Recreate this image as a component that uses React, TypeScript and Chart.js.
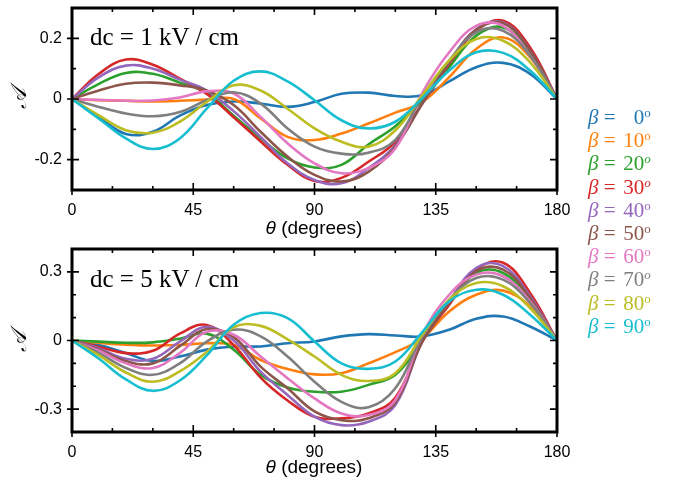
import React, { useEffect, useRef } from "react";
import { Chart, registerables } from "chart.js";
Chart.register(...registerables);

const THETA = [0, 10, 20, 30, 40, 50, 60, 70, 80, 90, 100, 110, 120, 130, 140, 150, 160, 170, 180];
const BETAS = ["0", "10", "20", "30", "40", "50", "60", "70", "80", "90"];
const ITALIC_DEG = [false, false, true, true, false, false, false, true, false, false];
const COLORS = ["#1f77b4", "#ff7f0e", "#2ca02c", "#d62728", "#9467bd", "#8c564b", "#e377c2", "#7f7f7f", "#bcbd22", "#17becf"];
const X_TICKS = [0, 45, 90, 135, 180];
const TOP_Y_TICKS = [-0.2, 0, 0.2];
const BOT_Y_TICKS = [-0.3, 0, 0.3];

// dc = 1 kV/cm
const DC1_B0 = [0, -0.06, -0.115, -0.108, -0.055, -0.02, -0.008, -0.015, -0.026, -0.01, 0.017, 0.021, 0.01, 0.012, 0.058, 0.105, 0.119, 0.083, 0];
const DC1_B10 = [0, -0.004, -0.006, -0.008, -0.006, -0.002, 0, -0.064, -0.125, -0.135, -0.114, -0.081, -0.045, -0.01, 0.072, 0.165, 0.203, 0.138, 0];
const DC1_B20 = [0, 0.05, 0.086, 0.083, 0.054, 0.02, -0.055, -0.13, -0.196, -0.226, -0.217, -0.15, -0.09, -0.004, 0.105, 0.209, 0.236, 0.154, 0];
const DC1_B30 = [0, 0.083, 0.13, 0.113, 0.067, 0.017, -0.06, -0.14, -0.217, -0.27, -0.26, -0.207, -0.141, -0.015, 0.116, 0.225, 0.258, 0.17, 0];
const DC1_B40 = [0, 0.072, 0.11, 0.1, 0.064, 0.028, -0.04, -0.125, -0.212, -0.267, -0.278, -0.228, -0.152, -0.015, 0.121, 0.23, 0.252, 0.16, 0];
const DC1_B50 = [0, 0.028, 0.05, 0.054, 0.045, 0.028, -0.02, -0.108, -0.19, -0.25, -0.272, -0.24, -0.157, -0.015, 0.12, 0.228, 0.25, 0.16, 0];
const DC1_B60 = [0, -0.003, -0.006, -0.005, 0.005, 0.025, 0.018, -0.059, -0.146, -0.212, -0.245, -0.228, -0.163, 0.02, 0.154, 0.241, 0.241, 0.143, 0];
const DC1_B70 = [0, -0.026, -0.048, -0.057, -0.043, -0.004, 0.022, -0.015, -0.097, -0.157, -0.18, -0.177, -0.135, 0.007, 0.127, 0.22, 0.225, 0.143, 0];
const DC1_B80 = [0, -0.054, -0.103, -0.111, -0.075, -0.01, 0.045, 0.028, -0.032, -0.097, -0.141, -0.157, -0.103, 0.012, 0.127, 0.198, 0.192, 0.121, 0];
const DC1_B90 = [0, -0.065, -0.13, -0.165, -0.13, -0.032, 0.06, 0.091, 0.058, -0.004, -0.07, -0.097, -0.075, 0.003, 0.094, 0.154, 0.152, 0.094, 0];

// dc = 5 kV/cm
const DC5_B0 = [0, -0.02, -0.055, -0.09, -0.07, -0.04, -0.026, -0.026, -0.012, -0.004, 0.018, 0.028, 0.022, 0.018, 0.047, 0.095, 0.105, 0.061, 0];
const DC5_B10 = [0, -0.01, -0.018, -0.022, -0.02, -0.012, -0.02, -0.085, -0.125, -0.148, -0.143, -0.1, -0.051, 0.01, 0.127, 0.2, 0.218, 0.149, 0];
const DC5_B20 = [0, -0.005, -0.01, -0.008, 0.008, 0.03, -0.04, -0.15, -0.205, -0.224, -0.224, -0.194, -0.15, 0.0, 0.164, 0.295, 0.295, 0.178, 0];
const DC5_B30 = [0, -0.028, -0.055, -0.045, 0.03, 0.068, -0.02, -0.162, -0.262, -0.333, -0.34, -0.319, -0.25, -0.005, 0.156, 0.31, 0.34, 0.208, 0];
const DC5_B40 = [0, -0.035, -0.08, -0.08, -0.005, 0.06, 0.0, -0.136, -0.238, -0.333, -0.37, -0.355, -0.282, -0.005, 0.171, 0.317, 0.325, 0.193, 0];
const DC5_B50 = [0, -0.04, -0.09, -0.1, -0.025, 0.05, 0.015, -0.114, -0.209, -0.31, -0.348, -0.34, -0.27, -0.005, 0.164, 0.303, 0.31, 0.186, 0];
const DC5_B60 = [0, -0.045, -0.1, -0.12, -0.055, 0.038, 0.025, -0.07, -0.165, -0.253, -0.319, -0.326, -0.26, 0.025, 0.2, 0.288, 0.281, 0.171, 0];
const DC5_B70 = [0, -0.055, -0.12, -0.15, -0.1, -0.005, 0.047, 0.018, -0.07, -0.18, -0.268, -0.292, -0.209, 0.018, 0.178, 0.273, 0.266, 0.164, 0];
const DC5_B80 = [0, -0.065, -0.14, -0.18, -0.135, -0.05, 0.058, 0.064, 0.005, -0.07, -0.15, -0.177, -0.143, 0.025, 0.178, 0.251, 0.237, 0.142, 0];
const DC5_B90 = [0, -0.08, -0.17, -0.22, -0.175, -0.065, 0.069, 0.12, 0.098, -0.004, -0.1, -0.124, -0.092, 0.037, 0.171, 0.222, 0.2, 0.113, 0];

const DC1 = [DC1_B0, DC1_B10, DC1_B20, DC1_B30, DC1_B40, DC1_B50, DC1_B60, DC1_B70, DC1_B80, DC1_B90];
const DC5 = [DC5_B0, DC5_B10, DC5_B20, DC5_B30, DC5_B40, DC5_B50, DC5_B60, DC5_B70, DC5_B80, DC5_B90];

const SANS = "'Liberation Sans', Arial, sans-serif";
const SERIF = "'Liberation Serif', 'Times New Roman', serif";

const framePlugin = {
  id: "frame",
  afterDatasetsDraw(chart: any) {
    const { ctx, chartArea: a, scales } = chart;
    const xs = scales.x;
    const ys = scales.y;
    const majorsY: number[] = chart.options.plugins.frame.majorsY;
    const yMaxTenths: number = chart.options.plugins.frame.yMaxTenths;
    ctx.save();
    ctx.strokeStyle = "#000";
    ctx.lineWidth = 1.6;
    for (const v of [15, 30, 45, 60, 75, 90, 105, 120, 135, 150, 165]) {
      const px = xs.getPixelForValue(v);
      const major = v % 45 === 0;
      const inL = major ? 7 : 4;
      ctx.beginPath();
      ctx.moveTo(px, a.bottom + (major ? 5 : 0));
      ctx.lineTo(px, a.bottom - inL);
      ctx.moveTo(px, a.top);
      ctx.lineTo(px, a.top + inL);
      ctx.stroke();
    }
    for (let k = -yMaxTenths + 1; k <= yMaxTenths - 1; k++) {
      const v = k / 10;
      const py = ys.getPixelForValue(v);
      const major = majorsY.some((m) => Math.abs(m - v) < 1e-6);
      const inL = major ? 7 : 4;
      ctx.beginPath();
      ctx.moveTo(a.left - (major ? 5 : 0), py);
      ctx.lineTo(a.left + inL, py);
      ctx.moveTo(a.right, py);
      ctx.lineTo(a.right - inL, py);
      ctx.stroke();
    }
    for (const v of [0, 180]) {
      const px = xs.getPixelForValue(v);
      ctx.beginPath();
      ctx.moveTo(px, a.bottom);
      ctx.lineTo(px, a.bottom + 5);
      ctx.stroke();
    }
    ctx.lineWidth = 3;
    ctx.strokeRect(a.left, a.top, a.right - a.left, a.bottom - a.top);
    ctx.restore();
  },
};

function Panel(props: {
  top: number;
  height: number;
  padTop: number;
  xAxisH: number;
  series: number[][];
  yMax: number;
  yTicks: number[];
}) {
  const ref = useRef<HTMLCanvasElement | null>(null);
  useEffect(() => {
    const canvas = ref.current!;
    const chart = new Chart(canvas, {
      type: "line",
      data: {
        datasets: props.series.map((vals, i) => ({
          label: "β = " + BETAS[i],
          data: THETA.map((t, j) => ({ x: t, y: vals[j] })),
          borderColor: COLORS[i],
          backgroundColor: COLORS[i],
          borderWidth: 2.6,
          pointRadius: 0,
          tension: 0.4,
          fill: false,
          order: 9 - i,
        })),
      },
      options: {
        animation: false,
        responsive: false,
        devicePixelRatio: 1,
        layout: { padding: { top: props.padTop, right: 63, left: 0, bottom: 0 } },
        plugins: {
          legend: { display: false },
          tooltip: { enabled: false },
          frame: { majorsY: props.yTicks, yMaxTenths: Math.round(props.yMax * 10) },
        } as any,
        scales: {
          x: {
            type: "linear",
            min: 0,
            max: 180,
            grid: { display: false, drawTicks: false },
            border: { display: false },
            afterBuildTicks: (s: any) => {
              s.ticks = X_TICKS.map((v) => ({ value: v }));
            },
            afterFit: (s: any) => {
              s.height = props.xAxisH;
              s.paddingLeft = 0;
              s.paddingRight = 0;
            },
            ticks: {
              color: "#000",
              font: { family: SANS, size: 16 },
              padding: 11,
              maxRotation: 0,
              autoSkip: false,
              callback: (v: any) => String(v),
            },
          },
          y: {
            type: "linear",
            min: -props.yMax,
            max: props.yMax,
            grid: { display: false, drawTicks: false },
            border: { display: false },
            afterBuildTicks: (s: any) => {
              s.ticks = props.yTicks.map((v) => ({ value: v }));
            },
            afterFit: (s: any) => {
              s.width = 72;
              s.paddingTop = 0;
              s.paddingBottom = 0;
            },
            ticks: {
              color: "#000",
              font: { family: SANS, size: 16 },
              padding: 10,
              autoSkip: false,
              callback: (v: any) => (Math.abs(v) < 1e-9 ? "0" : String(Math.round(v * 10) / 10)),
            },
          },
        },
      },
      plugins: [framePlugin as any],
    });
    return () => chart.destroy();
  }, []);
  return (
    <canvas
      ref={ref}
      width={620}
      height={props.height}
      style={{ position: "absolute", left: 0, top: props.top, width: 620, height: props.height }}
    />
  );
}

function XTitle({ cy }: { cy: number }) {
  return (
    <div
      style={{
        position: "absolute",
        left: 314,
        top: cy,
        transform: "translate(-50%, -50%)",
        fontFamily: SANS,
        fontSize: 19,
        lineHeight: "22px",
        whiteSpace: "nowrap",
        color: "#000",
      }}
    >
      <span style={{ fontStyle: "italic" }}>θ</span> (degrees)
    </div>
  );
}

function YTitle({ cy }: { cy: number }) {
  return (
    <div
      style={{
        position: "absolute",
        left: 19,
        top: cy,
        transform: "translate(-50%, -50%) rotate(-90deg)",
        fontFamily: SERIF,
        fontStyle: "italic",
        fontSize: 22,
        lineHeight: "24px",
        color: "#000",
      }}
    >
      𝒜
    </div>
  );
}

function Note({ top, text }: { top: number; text: string }) {
  return (
    <div
      style={{
        position: "absolute",
        left: 90,
        top,
        fontFamily: SERIF,
        fontSize: 25,
        lineHeight: "25px",
        whiteSpace: "nowrap",
        color: "#000",
      }}
    >
      {text}
    </div>
  );
}

export default function App() {
  return (
    <div style={{ position: "absolute", left: 0, top: 0, width: 680, height: 481, background: "#fff", overflow: "hidden" }}>
      <Panel top={0} height={240} padTop={8} xAxisH={50} series={DC1} yMax={0.3} yTicks={TOP_Y_TICKS} />
      <Panel top={240} height={241} padTop={9} xAxisH={49} series={DC5} yMax={0.4} yTicks={BOT_Y_TICKS} />
      <Note top={24} text="dc = 1 kV / cm" />
      <Note top={266} text="dc = 5 kV / cm" />
      <XTitle cy={228} />
      <XTitle cy={467} />
      <YTitle cy={98} />
      <YTitle cy={341} />
      {BETAS.map((b, i) => (
        <div
          key={b}
          style={{
            position: "absolute",
            left: 588,
            top: 101 + i * 23.2,
            fontFamily: SERIF,
            fontSize: 21,
            lineHeight: "24px",
            whiteSpace: "nowrap",
            color: COLORS[i],
          }}
        >
          <span style={{ fontStyle: "italic" }}>β</span>
          <span> = </span>
          <span style={{ display: "inline-block", width: 30, textAlign: "right" }}>
            {b}
            <span style={{ fontSize: 13, verticalAlign: 7, fontStyle: ITALIC_DEG[i] ? "italic" : "normal" }}>o</span>
          </span>
        </div>
      ))}
    </div>
  );
}
